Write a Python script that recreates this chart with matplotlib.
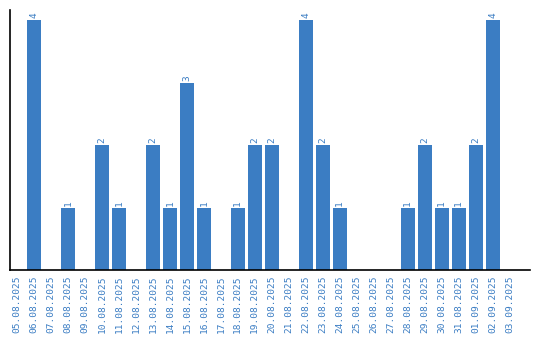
import matplotlib
matplotlib.use("Agg")
import matplotlib.pyplot as plt

dates = ["05.08.2025", "06.08.2025", "07.08.2025", "08.08.2025", "09.08.2025",
         "10.08.2025", "11.08.2025", "12.08.2025", "13.08.2025", "14.08.2025",
         "15.08.2025", "16.08.2025", "17.08.2025", "18.08.2025", "19.08.2025",
         "20.08.2025", "21.08.2025", "22.08.2025", "23.08.2025", "24.08.2025",
         "25.08.2025", "26.08.2025", "27.08.2025", "28.08.2025", "29.08.2025",
         "30.08.2025", "31.08.2025", "01.09.2025", "02.09.2025", "03.09.2025"]
counts = [0, 4, 0, 1, 0, 2, 1, 0, 2, 1, 3, 1, 0, 1, 2, 2, 0, 4, 2, 1,
          0, 0, 0, 1, 2, 1, 1, 2, 4, 0]

color = "#3b7dc3"
fig = plt.figure(figsize=(5.4, 3.4), dpi=100)
ax = fig.add_axes([10/540, 70/340, 520/540, 260/340])
x = list(range(len(dates)))
ax.bar(x, counts, width=14/17, color=color)
for xi, c in zip(x, counts):
    if c > 0:
        ax.text(xi, c + 0.03, str(c), rotation=90, ha="center", va="bottom",
                color=color, fontsize=6.8, family="DejaVu Sans Mono")
ax.set_xlim(-0.41, 30.2)
ax.set_ylim(0, 4.16)
ax.set_xticks(x)
ax.set_xticklabels(dates, rotation=90, color=color, fontsize=6.8, family="DejaVu Sans Mono")
ax.tick_params(axis="x", length=0, pad=4)
ax.set_yticks([])
for s in ["top", "right"]:
    ax.spines[s].set_visible(False)
ax.spines["left"].set_color("black")
ax.spines["bottom"].set_color("black")
ax.spines["left"].set_linewidth(1.2)
ax.spines["bottom"].set_linewidth(1.2)
fig.savefig("out.png", dpi=100)
